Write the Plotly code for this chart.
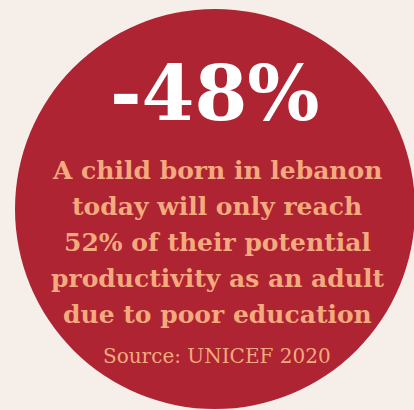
import plotly.graph_objects as go

headline = "-48%"
body_lines = [
    "A child born in lebanon",
    "today will only reach",
    "52% of their potential",
    "productivity as an adult",
    "due to poor education",
]
source = "Source: UNICEF 2020"

BG = "#F6EEE9"
RED = "#AE2432"
PEACH = "#F3AA7E"
W, H = 414, 410

fig = go.Figure()
fig.add_shape(type="circle", xref="x", yref="y", x0=15, x1=415, y0=H - 409, y1=H - 9,
              fillcolor=RED, line=dict(width=0), layer="below")

cx = 217
fig.add_annotation(x=cx - 2, y=H - 93, text=f"<b>{headline}</b>", showarrow=False,
                   xanchor="center", yanchor="middle",
                   font=dict(family="DejaVu Serif", size=76, color="white"))
body_y = [170, 206, 242, 278, 314]
for line, yy in zip(body_lines, body_y):
    fig.add_annotation(x=cx, y=H - yy, text=f"<b>{line}</b>", showarrow=False,
                       xanchor="center", yanchor="middle",
                       font=dict(family="DejaVu Serif", size=25, color=PEACH))
fig.add_annotation(x=cx, y=H - 356, text=source, showarrow=False,
                   xanchor="center", yanchor="middle",
                   font=dict(family="DejaVu Serif", size=20, color=PEACH))

fig.update_xaxes(range=[0, W], visible=False, fixedrange=True)
fig.update_yaxes(range=[0, H], visible=False, fixedrange=True)
fig.update_layout(width=W, height=H, margin=dict(l=0, r=0, t=0, b=0),
                  paper_bgcolor=BG, plot_bgcolor=BG, showlegend=False)
fig.write_html("out.html", config={"displayModeBar": False},
               post_script="document.body.style.margin='0';document.body.style.padding='0';"
                           "document.body.style.overflow='hidden';document.body.style.background='" + BG + "';")
